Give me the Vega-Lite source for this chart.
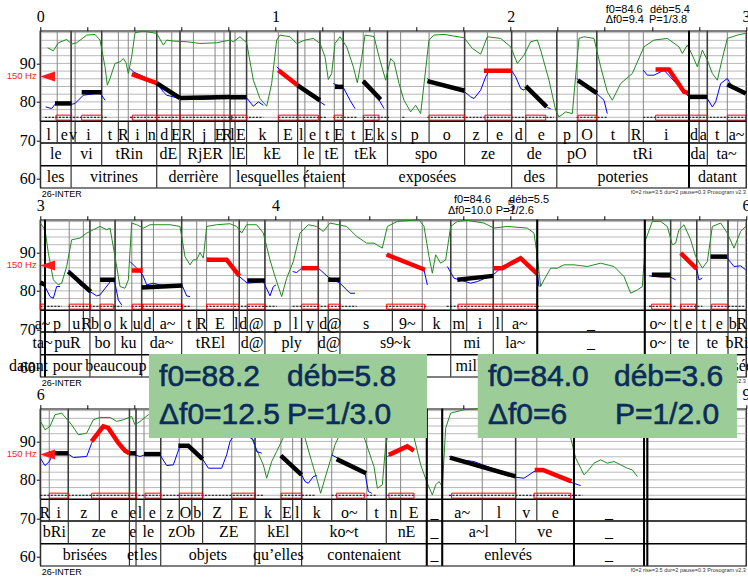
{
"$schema":"https://vega.github.io/schema/vega-lite/v6.json",
"autosize":{"type":"none"},
"padding":{"left":40.3,"top":30.7,"right":707.7,"bottom":547.3},
"background":"white",
"config":{
 "view":{"stroke":"black","strokeWidth":1.2},
 "axis":{"domain":false,"grid":false,"labelFont":"Liberation Serif","labelColor":"black","labelFontSize":16,"tickColor":"black","tickSize":4,"tickWidth":1}
},
"spacing":32,
"bounds":"flush",
"datasets":{
"grid":[{"g":76},{"g":78},{"g":80},{"g":82},{"g":84},{"g":86},{"g":88},{"g":90},{"g":92},{"g":94},{"g":96},{"g":98}],
"iv":[
{"p":1,"k":"ph","s":0,"m":0.036,"l":"l"},{"p":1,"k":"ph","s":0.072,"m":0.1015,"l":"e"},{"p":1,"k":"ph","s":0.131,"m":0.1395,"l":"v"},{"p":1,"k":"ph","s":0.148,"m":0.2045,"l":"i"},{"p":1,"k":"ph","s":0.261,"m":0.2965,"l":"t"},{"p":1,"k":"ph","s":0.332,"m":0.353,"l":"R"},{"p":1,"k":"ph","s":0.374,"m":0.413,"l":"i"},{"p":1,"k":"ph","s":0.452,"m":0.4735,"l":"n"},{"p":1,"k":"ph","s":0.495,"m":0.527,"l":"d"},{"p":1,"k":"ph","s":0.559,"m":0.5765,"l":"E"},{"p":1,"k":"ph","s":0.594,"m":0.6225,"l":"R"},{"p":1,"k":"ph","s":0.651,"m":0.697,"l":"j"},{"p":1,"k":"ph","s":0.743,"m":0.762,"l":"E"},{"p":1,"k":"ph","s":0.781,"m":0.794,"l":"R"},{"p":1,"k":"ph","s":0.807,"m":0.8175,"l":"l"},{"p":1,"k":"ph","s":0.828,"m":0.8525,"l":"E"},{"p":1,"k":"ph","s":0.877,"m":0.9445,"l":"k"},{"p":1,"k":"ph","s":1.012,"m":1.053,"l":"E"},{"p":1,"k":"ph","s":1.094,"m":1.1095,"l":"l"},{"p":1,"k":"ph","s":1.125,"m":1.157,"l":"e"},{"p":1,"k":"ph","s":1.189,"m":1.2195,"l":"t"},{"p":1,"k":"ph","s":1.25,"m":1.269,"l":"E"},{"p":1,"k":"ph","s":1.288,"m":1.3305,"l":"t"},{"p":1,"k":"ph","s":1.373,"m":1.3965,"l":"E"},{"p":1,"k":"ph","s":1.42,"m":1.448,"l":"k"},{"p":1,"k":"ph","s":1.476,"m":1.504,"l":"s"},{"p":1,"k":"ph","s":1.532,"m":1.5925,"l":"p"},{"p":1,"k":"ph","s":1.653,"m":1.7285,"l":"o"},{"p":1,"k":"ph","s":1.804,"m":1.8525,"l":"z"},{"p":1,"k":"ph","s":1.901,"m":1.9525,"l":"e"},{"p":1,"k":"ph","s":2.004,"m":2.034,"l":"d"},{"p":1,"k":"ph","s":2.064,"m":2.13,"l":"e"},{"p":1,"k":"ph","s":2.196,"m":2.2395,"l":"p"},{"p":1,"k":"ph","s":2.283,"m":2.3245,"l":"O"},{"p":1,"k":"ph","s":2.366,"m":2.4345,"l":"t"},{"p":1,"k":"ph","s":2.503,"m":2.5335,"l":"R"},{"p":1,"k":"ph","s":2.564,"m":2.661,"l":"i"},{"p":1,"k":"ph","s":2.758,"m":2.7795,"l":"d"},{"p":1,"k":"ph","s":2.801,"m":2.8185,"l":"a"},{"p":1,"k":"ph","s":2.836,"m":2.8785,"l":"t"},{"p":1,"k":"ph","s":2.921,"m":2.9605,"l":"a~"},
{"p":1,"k":"sy","s":0,"m":0.0655,"l":"le"},{"p":1,"k":"sy","s":0.131,"m":0.196,"l":"vi"},{"p":1,"k":"sy","s":0.261,"m":0.378,"l":"tRin"},{"p":1,"k":"sy","s":0.495,"m":0.5445,"l":"dE"},{"p":1,"k":"sy","s":0.594,"m":0.7005,"l":"RjER"},{"p":1,"k":"sy","s":0.807,"m":0.842,"l":"lE"},{"p":1,"k":"sy","s":0.877,"m":0.9855,"l":"kE"},{"p":1,"k":"sy","s":1.094,"m":1.1415,"l":"le"},{"p":1,"k":"sy","s":1.189,"m":1.2385,"l":"tE"},{"p":1,"k":"sy","s":1.288,"m":1.382,"l":"tEk"},{"p":1,"k":"sy","s":1.476,"m":1.64,"l":"spo"},{"p":1,"k":"sy","s":1.804,"m":1.904,"l":"ze"},{"p":1,"k":"sy","s":2.004,"m":2.1,"l":"de"},{"p":1,"k":"sy","s":2.196,"m":2.281,"l":"pO"},{"p":1,"k":"sy","s":2.366,"m":2.562,"l":"tRi"},{"p":1,"k":"sy","s":2.758,"m":2.797,"l":"da"},{"p":1,"k":"sy","s":2.836,"m":2.918,"l":"ta~"},
{"p":1,"k":"wd","s":0,"m":0.0655,"l":"les"},{"p":1,"k":"wd","s":0.131,"m":0.313,"l":"vitrines"},{"p":1,"k":"wd","s":0.495,"m":0.651,"l":"derrière"},{"p":1,"k":"wd","s":0.807,"m":0.966,"l":"lesquelles"},{"p":1,"k":"wd","s":1.125,"m":1.2065,"l":"étaient"},{"p":1,"k":"wd","s":1.288,"m":1.646,"l":"exposées"},{"p":1,"k":"wd","s":2.004,"m":2.1,"l":"des"},{"p":1,"k":"wd","s":2.196,"m":2.477,"l":"poteries"},{"p":1,"k":"wd","s":2.758,"m":2.879,"l":"datant"},
{"p":2,"k":"ph","s":3,"m":3.01,"l":"a~"},{"p":2,"k":"ph","s":3.02,"m":3.0715,"l":"p"},{"p":2,"k":"ph","s":3.123,"m":3.153,"l":"u"},{"p":2,"k":"ph","s":3.183,"m":3.197,"l":"R"},{"p":2,"k":"ph","s":3.211,"m":3.2325,"l":"b"},{"p":2,"k":"ph","s":3.254,"m":3.286,"l":"o"},{"p":2,"k":"ph","s":3.318,"m":3.3535,"l":"k"},{"p":2,"k":"ph","s":3.389,"m":3.41,"l":"u"},{"p":2,"k":"ph","s":3.431,"m":3.456,"l":"d"},{"p":2,"k":"ph","s":3.481,"m":3.541,"l":"a~"},{"p":2,"k":"ph","s":3.601,"m":3.633,"l":"t"},{"p":2,"k":"ph","s":3.665,"m":3.686,"l":"R"},{"p":2,"k":"ph","s":3.707,"m":3.764,"l":"E"},{"p":2,"k":"ph","s":3.821,"m":3.8335,"l":"l"},{"p":2,"k":"ph","s":3.846,"m":3.863,"l":"d"},{"p":2,"k":"ph","s":3.88,"m":3.9175,"l":"@"},{"p":2,"k":"ph","s":3.955,"m":4.0085,"l":"p"},{"p":2,"k":"ph","s":4.062,"m":4.0865,"l":"l"},{"p":2,"k":"ph","s":4.111,"m":4.1465,"l":"y"},{"p":2,"k":"ph","s":4.182,"m":4.203,"l":"d"},{"p":2,"k":"ph","s":4.224,"m":4.249,"l":"@"},{"p":2,"k":"ph","s":4.274,"m":4.3855,"l":"s"},{"p":2,"k":"ph","s":4.497,"m":4.5605,"l":"9~"},{"p":2,"k":"ph","s":4.624,"m":4.6845,"l":"k"},{"p":2,"k":"ph","s":4.745,"m":4.779,"l":"m"},{"p":2,"k":"ph","s":4.813,"m":4.8695,"l":"i"},{"p":2,"k":"ph","s":4.926,"m":4.945,"l":"l"},{"p":2,"k":"ph","s":4.964,"m":5.0385,"l":"a~"},{"p":2,"k":"ph","s":5.113,"m":5.3415,"l":"_"},{"p":2,"k":"ph","s":5.57,"m":5.625,"l":"o~"},{"p":2,"k":"ph","s":5.68,"m":5.7015,"l":"t"},{"p":2,"k":"ph","s":5.723,"m":5.757,"l":"e"},{"p":2,"k":"ph","s":5.791,"m":5.8205,"l":"t"},{"p":2,"k":"ph","s":5.85,"m":5.887,"l":"e"},{"p":2,"k":"ph","s":5.924,"m":5.9445,"l":"b"},{"p":2,"k":"ph","s":5.965,"m":5.9825,"l":"R"},
{"p":2,"k":"sy","s":3,"m":3.01,"l":"ta~"},{"p":2,"k":"sy","s":3.02,"m":3.1155,"l":"puR"},{"p":2,"k":"sy","s":3.211,"m":3.2645,"l":"bo"},{"p":2,"k":"sy","s":3.318,"m":3.3745,"l":"ku"},{"p":2,"k":"sy","s":3.431,"m":3.516,"l":"da~"},{"p":2,"k":"sy","s":3.601,"m":3.7235,"l":"tREl"},{"p":2,"k":"sy","s":3.846,"m":3.9005,"l":"d@"},{"p":2,"k":"sy","s":3.955,"m":4.0685,"l":"ply"},{"p":2,"k":"sy","s":4.182,"m":4.228,"l":"d@"},{"p":2,"k":"sy","s":4.274,"m":4.5095,"l":"s9~k"},{"p":2,"k":"sy","s":4.745,"m":4.8355,"l":"mi"},{"p":2,"k":"sy","s":4.926,"m":5.0195,"l":"la~"},{"p":2,"k":"sy","s":5.113,"m":5.3415,"l":"_"},{"p":2,"k":"sy","s":5.57,"m":5.625,"l":"o~"},{"p":2,"k":"sy","s":5.68,"m":5.7355,"l":"te"},{"p":2,"k":"sy","s":5.791,"m":5.8575,"l":"te"},{"p":2,"k":"sy","s":5.924,"m":5.962,"l":"bRi"},
{"p":2,"k":"wd","s":3,"m":2.95,"l":"datant"},{"p":2,"k":"wd","s":3.02,"m":3.1155,"l":"pour"},{"p":2,"k":"wd","s":3.211,"m":3.321,"l":"beaucoup"},{"p":2,"k":"wd","s":3.431,"m":3.6385,"l":"d'entre elles"},{"p":2,"k":"wd","s":3.846,"m":3.9005,"l":"de"},{"p":2,"k":"wd","s":3.955,"m":4.0685,"l":"plus"},{"p":2,"k":"wd","s":4.182,"m":4.228,"l":"de"},{"p":2,"k":"wd","s":4.274,"m":4.5095,"l":"cinq"},{"p":2,"k":"wd","s":4.745,"m":4.8355,"l":"mille"},{"p":2,"k":"wd","s":4.926,"m":5.0195,"l":"ans"},{"p":2,"k":"wd","s":5.113,"m":5.3415,"l":"_"},{"p":2,"k":"wd","s":5.57,"m":5.625,"l":"ont"},{"p":2,"k":"wd","s":5.68,"m":5.802,"l":"été"},{"p":2,"k":"wd","s":5.924,"m":5.962,"l":"brisées"},
{"p":3,"k":"ph","s":6,"m":6.019,"l":"R"},{"p":3,"k":"ph","s":6.038,"m":6.0785,"l":"i"},{"p":3,"k":"ph","s":6.119,"m":6.185,"l":"z"},{"p":3,"k":"ph","s":6.251,"m":6.315,"l":"e"},{"p":3,"k":"ph","s":6.379,"m":6.393,"l":"e"},{"p":3,"k":"ph","s":6.407,"m":6.424,"l":"l"},{"p":3,"k":"ph","s":6.441,"m":6.4765,"l":"e"},{"p":3,"k":"ph","s":6.512,"m":6.5515,"l":"z"},{"p":3,"k":"ph","s":6.591,"m":6.6175,"l":"O"},{"p":3,"k":"ph","s":6.644,"m":6.667,"l":"b"},{"p":3,"k":"ph","s":6.69,"m":6.752,"l":"Z"},{"p":3,"k":"ph","s":6.814,"m":6.8635,"l":"E"},{"p":3,"k":"ph","s":6.913,"m":6.968,"l":"k"},{"p":3,"k":"ph","s":7.023,"m":7.048,"l":"E"},{"p":3,"k":"ph","s":7.073,"m":7.092,"l":"l"},{"p":3,"k":"ph","s":7.111,"m":7.175,"l":"k"},{"p":3,"k":"ph","s":7.239,"m":7.3135,"l":"o~"},{"p":3,"k":"ph","s":7.388,"m":7.4295,"l":"t"},{"p":3,"k":"ph","s":7.471,"m":7.5015,"l":"n"},{"p":3,"k":"ph","s":7.532,"m":7.5875,"l":"E"},{"p":3,"k":"ph","s":7.643,"m":7.676,"l":"_"},{"p":3,"k":"ph","s":7.709,"m":7.794,"l":"a~"},{"p":3,"k":"ph","s":7.879,"m":7.95,"l":"l"},{"p":3,"k":"ph","s":8.021,"m":8.066,"l":"v"},{"p":3,"k":"ph","s":8.111,"m":8.19,"l":"e"},{"p":3,"k":"ph","s":8.269,"m":8.418,"l":"_"},{"p":3,"k":"ph","s":8.567,"m":8.574,"l":""},{"p":3,"k":"ph","s":8.581,"m":8.79,"l":""},
{"p":3,"k":"sy","s":6,"m":6.0595,"l":"bRi"},{"p":3,"k":"sy","s":6.119,"m":6.249,"l":"ze"},{"p":3,"k":"sy","s":6.379,"m":6.393,"l":"e"},{"p":3,"k":"sy","s":6.407,"m":6.4595,"l":"le"},{"p":3,"k":"sy","s":6.512,"m":6.601,"l":"zOb"},{"p":3,"k":"sy","s":6.69,"m":6.8015,"l":"ZE"},{"p":3,"k":"sy","s":6.913,"m":7.012,"l":"kEl"},{"p":3,"k":"sy","s":7.111,"m":7.291,"l":"ko~t"},{"p":3,"k":"sy","s":7.471,"m":7.557,"l":"nE"},{"p":3,"k":"sy","s":7.643,"m":7.676,"l":"_"},{"p":3,"k":"sy","s":7.709,"m":7.865,"l":"a~l"},{"p":3,"k":"sy","s":8.021,"m":8.145,"l":"ve"},{"p":3,"k":"sy","s":8.269,"m":8.418,"l":"_"},{"p":3,"k":"sy","s":8.567,"m":8.574,"l":""},{"p":3,"k":"sy","s":8.581,"m":8.79,"l":""},
{"p":3,"k":"wd","s":6,"m":6.1895,"l":"brisées"},{"p":3,"k":"wd","s":6.379,"m":6.393,"l":"et"},{"p":3,"k":"wd","s":6.407,"m":6.4595,"l":"les"},{"p":3,"k":"wd","s":6.512,"m":6.7125,"l":"objets"},{"p":3,"k":"wd","s":6.913,"m":7.012,"l":"qu’elles"},{"p":3,"k":"wd","s":7.111,"m":7.377,"l":"contenaient"},{"p":3,"k":"wd","s":7.643,"m":7.676,"l":"_"},{"p":3,"k":"wd","s":7.709,"m":7.989,"l":"enlevés"},{"p":3,"k":"wd","s":8.269,"m":8.418,"l":"_"},{"p":3,"k":"wd","s":8.567,"m":8.574,"l":""},{"p":3,"k":"wd","s":8.581,"m":8.79,"l":""}
],
"pz":[{"p":1,"t":2.758},{"p":2,"t":3.02},{"p":2,"t":5.113},{"p":2,"t":5.57},{"p":3,"t":7.643},{"p":3,"t":7.709},{"p":3,"t":8.269},{"p":3,"t":8.567},{"p":3,"t":8.581}],
"sty":[
{"p":1,"id":"a","c":"k","t":0.0625,"v":79.6},{"p":1,"id":"a","c":"k","t":0.133,"v":79.6},
{"p":1,"id":"b","c":"k","t":0.176,"v":82.5},{"p":1,"id":"b","c":"k","t":0.261,"v":82.5},
{"p":1,"id":"c","c":"r","t":0.389,"v":87.2},{"p":1,"id":"c","c":"r","t":0.495,"v":84.9},
{"p":1,"id":"d","c":"k","t":0.495,"v":84.9},{"p":1,"id":"d","c":"k","t":0.594,"v":81.0},
{"p":1,"id":"e","c":"k","t":0.594,"v":81.0},{"p":1,"id":"e","c":"k","t":0.807,"v":81.3},
{"p":1,"id":"f","c":"k","t":0.807,"v":81.2},{"p":1,"id":"f","c":"k","t":0.877,"v":81.2},
{"p":1,"id":"g","c":"r","t":1.012,"v":88.2},{"p":1,"id":"g","c":"r","t":1.094,"v":84.3},
{"p":1,"id":"h","c":"k","t":1.094,"v":84.3},{"p":1,"id":"h","c":"k","t":1.189,"v":80.4},
{"p":1,"id":"i","c":"k","t":1.253,"v":83.9},{"p":1,"id":"i","c":"k","t":1.288,"v":83.9},
{"p":1,"id":"j","c":"k","t":1.373,"v":85.4},{"p":1,"id":"j","c":"k","t":1.447,"v":80.6},
{"p":1,"id":"k","c":"k","t":1.646,"v":85.4},{"p":1,"id":"k","c":"k","t":1.804,"v":82.9},
{"p":1,"id":"l","c":"r","t":1.886,"v":88.1},{"p":1,"id":"l","c":"r","t":2.004,"v":88.1},
{"p":1,"id":"m","c":"k","t":2.064,"v":84.1},{"p":1,"id":"m","c":"k","t":2.153,"v":78.7},
{"p":1,"id":"n","c":"k","t":2.286,"v":85.6},{"p":1,"id":"n","c":"k","t":2.366,"v":82.3},
{"p":1,"id":"o","c":"r","t":2.616,"v":88.4},{"p":1,"id":"o","c":"r","t":2.673,"v":88.4},{"p":1,"id":"o","c":"r","t":2.737,"v":82.6},{"p":1,"id":"o","c":"r","t":2.758,"v":82.3},
{"p":1,"id":"q","c":"k","t":2.758,"v":81.3},{"p":1,"id":"q","c":"k","t":2.836,"v":81.3},
{"p":1,"id":"r","c":"k","t":2.921,"v":84.5},{"p":1,"id":"r","c":"k","t":3.0,"v":82.2},
{"p":2,"id":"a","c":"k","t":3.0,"v":82.2},{"p":2,"id":"a","c":"k","t":3.02,"v":81.6},
{"p":2,"id":"b","c":"k","t":3.119,"v":85.0},{"p":2,"id":"b","c":"k","t":3.214,"v":79.8},
{"p":2,"id":"c","c":"k","t":3.254,"v":82.9},{"p":2,"id":"c","c":"k","t":3.318,"v":82.9},
{"p":2,"id":"d","c":"r","t":3.389,"v":85.3},{"p":2,"id":"d","c":"r","t":3.435,"v":85.3},
{"p":2,"id":"e","c":"k","t":3.431,"v":80.9},{"p":2,"id":"e","c":"k","t":3.605,"v":81.4},
{"p":2,"id":"f","c":"r","t":3.707,"v":88.1},{"p":2,"id":"f","c":"r","t":3.792,"v":88.1},{"p":2,"id":"f","c":"r","t":3.846,"v":83.9},
{"p":2,"id":"g","c":"k","t":3.88,"v":82.7},{"p":2,"id":"g","c":"k","t":3.955,"v":82.7},
{"p":2,"id":"h","c":"r","t":4.111,"v":85.9},{"p":2,"id":"h","c":"r","t":4.182,"v":85.9},
{"p":2,"id":"i","c":"k","t":4.224,"v":82.9},{"p":2,"id":"i","c":"k","t":4.274,"v":82.9},
{"p":2,"id":"j","c":"r","t":4.473,"v":89.4},{"p":2,"id":"j","c":"r","t":4.635,"v":85.5},
{"p":2,"id":"k","c":"k","t":4.773,"v":82.9},{"p":2,"id":"k","c":"k","t":4.926,"v":83.9},
{"p":2,"id":"l","c":"r","t":4.926,"v":85.9},{"p":2,"id":"l","c":"r","t":4.964,"v":85.9},{"p":2,"id":"l","c":"r","t":5.042,"v":88.5},{"p":2,"id":"l","c":"r","t":5.113,"v":84.4},
{"p":2,"id":"m","c":"k","t":5.6,"v":84.2},{"p":2,"id":"m","c":"k","t":5.68,"v":84.2},
{"p":2,"id":"n","c":"r","t":5.723,"v":89.8},{"p":2,"id":"n","c":"r","t":5.791,"v":85.7},
{"p":2,"id":"o","c":"k","t":5.85,"v":88.9},{"p":2,"id":"o","c":"k","t":5.921,"v":88.9},
{"p":3,"id":"a","c":"k","t":6.037,"v":86.9},{"p":3,"id":"a","c":"k","t":6.119,"v":86.9},
{"p":3,"id":"b","c":"r","t":6.218,"v":90.0},{"p":3,"id":"b","c":"r","t":6.268,"v":93.9},{"p":3,"id":"b","c":"r","t":6.289,"v":93.5},{"p":3,"id":"b","c":"r","t":6.332,"v":89.6},{"p":3,"id":"b","c":"r","t":6.36,"v":87.6},{"p":3,"id":"b","c":"r","t":6.379,"v":86.9},
{"p":3,"id":"c","c":"k","t":6.379,"v":86.9},{"p":3,"id":"c","c":"k","t":6.407,"v":86.9},
{"p":3,"id":"d","c":"k","t":6.441,"v":86.7},{"p":3,"id":"d","c":"k","t":6.512,"v":86.7},
{"p":3,"id":"e","c":"k","t":6.587,"v":88.9},{"p":3,"id":"e","c":"k","t":6.629,"v":88.9},{"p":3,"id":"e","c":"k","t":6.69,"v":85.4},
{"p":3,"id":"g","c":"k","t":7.023,"v":86.3},{"p":3,"id":"g","c":"k","t":7.111,"v":81.3},
{"p":3,"id":"h","c":"k","t":7.26,"v":85.4},{"p":3,"id":"h","c":"k","t":7.385,"v":81.7},
{"p":3,"id":"i","c":"r","t":7.482,"v":86.5},{"p":3,"id":"i","c":"r","t":7.56,"v":88.7},{"p":3,"id":"i","c":"r","t":7.588,"v":87.6},
{"p":3,"id":"j","c":"k","t":7.742,"v":85.8},{"p":3,"id":"j","c":"k","t":8.021,"v":80.9},
{"p":3,"id":"k","c":"r","t":8.102,"v":82.6},{"p":3,"id":"k","c":"r","t":8.137,"v":82.6},{"p":3,"id":"k","c":"r","t":8.258,"v":79.6}
],
"f0":[
{"p":1,"id":"A","t":0.0229,"v":78.7},{"p":1,"id":"A","t":0.0484,"v":78.26},{"p":1,"id":"A","t":0.0625,"v":79.39},{"p":1,"id":"A","t":0.1334,"v":79.39},{"p":1,"id":"A","t":0.1476,"v":79.57},{"p":1,"id":"A","t":0.183,"v":81.74},{"p":1,"id":"A","t":0.2539,"v":82.34},{"p":1,"id":"A","t":0.2751,"v":80.43},
{"p":1,"id":"B","t":0.3814,"v":88.68},{"p":1,"id":"B","t":0.3956,"v":87.81},{"p":1,"id":"B","t":0.4948,"v":84.95},{"p":1,"id":"B","t":0.5231,"v":82.6},{"p":1,"id":"B","t":0.5373,"v":81.74},{"p":1,"id":"B","t":0.594,"v":80.87},{"p":1,"id":"B","t":0.679,"v":80.61},{"p":1,"id":"B","t":0.7499,"v":80.87},{"p":1,"id":"B","t":0.8066,"v":81.04},{"p":1,"id":"B","t":0.8774,"v":81.04},{"p":1,"id":"B","t":0.9058,"v":78.87},{"p":1,"id":"B","t":0.927,"v":80.0},{"p":1,"id":"B","t":0.9483,"v":79.13},
{"p":1,"id":"C","t":1.005,"v":89.11},{"p":1,"id":"C","t":1.0942,"v":84.34},{"p":1,"id":"C","t":1.1892,"v":80.0},{"p":1,"id":"C","t":1.2105,"v":79.13},
{"p":1,"id":"D","t":1.2459,"v":84.77},{"p":1,"id":"D","t":1.2884,"v":83.73},{"p":1,"id":"D","t":1.3168,"v":80.43},{"p":1,"id":"D","t":1.338,"v":78.26},
{"p":1,"id":"E","t":1.3734,"v":85.64},{"p":1,"id":"E","t":1.433,"v":81.3},{"p":1,"id":"E","t":1.4613,"v":78.26},
{"p":1,"id":"F","t":1.6456,"v":86.08},{"p":1,"id":"F","t":1.6739,"v":84.77},{"p":1,"id":"F","t":1.8043,"v":82.6},{"p":1,"id":"F","t":1.8298,"v":81.3},{"p":1,"id":"F","t":1.844,"v":80.87},{"p":1,"id":"F","t":1.8723,"v":83.04},{"p":1,"id":"F","t":1.8936,"v":86.51},{"p":1,"id":"F","t":1.9077,"v":88.07},{"p":1,"id":"F","t":2.0041,"v":88.07},{"p":1,"id":"F","t":2.0211,"v":86.51},{"p":1,"id":"F","t":2.0424,"v":83.47},{"p":1,"id":"F","t":2.0565,"v":83.04},{"p":1,"id":"F","t":2.0707,"v":83.91},{"p":1,"id":"F","t":2.1274,"v":80.43},{"p":1,"id":"F","t":2.1558,"v":78.52},{"p":1,"id":"F","t":2.1699,"v":78.26},
{"p":1,"id":"G","t":2.2805,"v":86.08},{"p":1,"id":"G","t":2.3655,"v":82.17},{"p":1,"id":"G","t":2.3967,"v":80.43},{"p":1,"id":"G","t":2.4108,"v":76.96},
{"p":1,"id":"H","t":2.5639,"v":88.25},{"p":1,"id":"H","t":2.5809,"v":86.94},{"p":1,"id":"H","t":2.6092,"v":86.94},{"p":1,"id":"H","t":2.6518,"v":88.25},{"p":1,"id":"H","t":2.7368,"v":82.6},{"p":1,"id":"H","t":2.7581,"v":81.3},{"p":1,"id":"H","t":2.836,"v":80.87},{"p":1,"id":"H","t":2.8573,"v":78.7},{"p":1,"id":"H","t":2.8715,"v":80.0},{"p":1,"id":"H","t":2.8927,"v":84.77},{"p":1,"id":"H","t":2.9211,"v":86.08},{"p":1,"id":"H","t":2.9423,"v":83.91},{"p":1,"id":"H","t":2.999,"v":82.17},
{"p":2,"id":"A","t":3.0002,"v":82.0},{"p":2,"id":"A","t":3.02,"v":81.13},{"p":2,"id":"A","t":3.0413,"v":78.52},{"p":2,"id":"A","t":3.0555,"v":78.09},{"p":2,"id":"A","t":3.0696,"v":81.13},{"p":2,"id":"A","t":3.0838,"v":81.13},
{"p":2,"id":"B","t":3.1192,"v":85.47},{"p":2,"id":"B","t":3.1688,"v":81.56},{"p":2,"id":"B","t":3.2114,"v":79.83},{"p":2,"id":"B","t":3.2397,"v":78.7},{"p":2,"id":"B","t":3.2539,"v":78.96},{"p":2,"id":"B","t":3.3035,"v":82.86},{"p":2,"id":"B","t":3.3176,"v":82.0},{"p":2,"id":"B","t":3.3318,"v":77.66},{"p":2,"id":"B","t":3.346,"v":76.35},
{"p":2,"id":"C","t":3.3814,"v":87.64},{"p":2,"id":"C","t":3.4098,"v":85.9},{"p":2,"id":"C","t":3.4353,"v":84.17},{"p":2,"id":"C","t":3.4523,"v":81.56},{"p":2,"id":"C","t":3.4806,"v":82.0},{"p":2,"id":"C","t":3.5089,"v":81.56},{"p":2,"id":"C","t":3.5656,"v":81.13},{"p":2,"id":"C","t":3.6053,"v":81.13},{"p":2,"id":"C","t":3.6223,"v":78.7},{"p":2,"id":"C","t":3.6365,"v":78.52},
{"p":2,"id":"D","t":3.7074,"v":88.51},{"p":2,"id":"D","t":3.7924,"v":88.07},{"p":2,"id":"D","t":3.8463,"v":83.73},{"p":2,"id":"D","t":3.8803,"v":82.0},{"p":2,"id":"D","t":3.9483,"v":82.43},{"p":2,"id":"D","t":3.9766,"v":78.7},{"p":2,"id":"D","t":3.9908,"v":81.13},{"p":2,"id":"D","t":4.0021,"v":81.56},
{"p":2,"id":"E","t":4.073,"v":85.03},{"p":2,"id":"E","t":4.09,"v":84.77},{"p":2,"id":"E","t":4.1113,"v":85.9},{"p":2,"id":"E","t":4.1821,"v":85.9},{"p":2,"id":"E","t":4.2246,"v":83.56},{"p":2,"id":"E","t":4.2743,"v":82.0},{"p":2,"id":"E","t":4.3168,"v":79.39},{"p":2,"id":"E","t":4.338,"v":79.39},
{"p":2,"id":"F","t":4.4684,"v":89.38},{"p":2,"id":"F","t":4.6314,"v":85.47},{"p":2,"id":"F","t":4.6456,"v":81.56},
{"p":2,"id":"G","t":4.7306,"v":86.34},{"p":2,"id":"G","t":4.7589,"v":83.3},{"p":2,"id":"G","t":4.8298,"v":82.0},{"p":2,"id":"G","t":4.8581,"v":82.43},{"p":2,"id":"G","t":4.9262,"v":84.17},{"p":2,"id":"G","t":4.9644,"v":86.34},{"p":2,"id":"G","t":5.0424,"v":88.51},{"p":2,"id":"G","t":5.1132,"v":84.6},{"p":2,"id":"G","t":5.1203,"v":81.13},
{"p":2,"id":"H","t":5.588,"v":83.91},{"p":2,"id":"H","t":5.6376,"v":83.56},{"p":2,"id":"H","t":5.6801,"v":83.56},{"p":2,"id":"H","t":5.7014,"v":82.86},
{"p":2,"id":"I","t":5.7226,"v":89.81},{"p":2,"id":"I","t":5.7907,"v":85.73},{"p":2,"id":"I","t":5.8006,"v":82.86},{"p":2,"id":"I","t":5.8148,"v":83.3},
{"p":2,"id":"J","t":5.8502,"v":88.94},{"p":2,"id":"J","t":5.9211,"v":88.51},{"p":2,"id":"J","t":5.9494,"v":86.34},{"p":2,"id":"J","t":5.9777,"v":86.51},{"p":2,"id":"J","t":5.999,"v":85.47},
{"p":3,"id":"A","t":6.0002,"v":85.64},{"p":3,"id":"A","t":6.02,"v":83.73},{"p":3,"id":"A","t":6.0384,"v":84.77},{"p":3,"id":"A","t":6.0555,"v":86.94},{"p":3,"id":"A","t":6.1192,"v":86.68},{"p":3,"id":"A","t":6.1405,"v":85.82},{"p":3,"id":"A","t":6.1972,"v":86.08},{"p":3,"id":"A","t":6.2184,"v":89.55},{"p":3,"id":"A","t":6.2539,"v":93.63},{"p":3,"id":"A","t":6.2822,"v":93.45},{"p":3,"id":"A","t":6.3318,"v":89.55},{"p":3,"id":"A","t":6.3786,"v":86.94},{"p":3,"id":"A","t":6.424,"v":86.08},{"p":3,"id":"A","t":6.4523,"v":86.68},{"p":3,"id":"A","t":6.509,"v":86.51},{"p":3,"id":"A","t":6.5373,"v":83.73},{"p":3,"id":"A","t":6.5656,"v":83.91},{"p":3,"id":"A","t":6.594,"v":88.85},{"p":3,"id":"A","t":6.6294,"v":88.85},{"p":3,"id":"A","t":6.6904,"v":85.38},{"p":3,"id":"A","t":6.7145,"v":83.04},{"p":3,"id":"A","t":6.7711,"v":83.04},{"p":3,"id":"A","t":6.7924,"v":86.51},{"p":3,"id":"A","t":6.8066,"v":89.98},{"p":3,"id":"A","t":6.8207,"v":91.28},{"p":3,"id":"A","t":6.8632,"v":92.15},{"p":3,"id":"A","t":6.9058,"v":90.42},{"p":3,"id":"A","t":6.9199,"v":87.38},{"p":3,"id":"A","t":6.9412,"v":86.94},
{"p":3,"id":"B","t":7.0234,"v":86.34},{"p":3,"id":"B","t":7.0758,"v":83.04},{"p":3,"id":"B","t":7.1113,"v":81.3},{"p":3,"id":"B","t":7.1255,"v":79.57},{"p":3,"id":"B","t":7.1396,"v":79.13},{"p":3,"id":"B","t":7.1609,"v":80.87},{"p":3,"id":"B","t":7.175,"v":81.13},
{"p":3,"id":"C","t":7.2388,"v":86.51},{"p":3,"id":"C","t":7.3805,"v":81.74},{"p":3,"id":"C","t":7.3947,"v":76.96},{"p":3,"id":"C","t":7.4089,"v":76.53},
{"p":3,"id":"D","t":7.4755,"v":86.08},{"p":3,"id":"D","t":7.5605,"v":88.68},{"p":3,"id":"D","t":7.5889,"v":87.55},
{"p":3,"id":"E","t":7.7377,"v":86.08},{"p":3,"id":"E","t":7.7873,"v":85.21},{"p":3,"id":"E","t":7.844,"v":84.77},{"p":3,"id":"E","t":8.0211,"v":80.69},{"p":3,"id":"E","t":8.0565,"v":80.43},{"p":3,"id":"E","t":8.0991,"v":82.17},{"p":3,"id":"E","t":8.1345,"v":82.6},{"p":3,"id":"E","t":8.2549,"v":79.39},{"p":3,"id":"E","t":8.2975,"v":78.52}
],
"in":[
{"p":1,"t":0.0314,"v":94.06},{"p":1,"t":0.0554,"v":93.28},{"p":1,"t":0.0767,"v":95.36},{"p":1,"t":0.1121,"v":96.23},{"p":1,"t":0.1334,"v":95.02},{"p":1,"t":0.1547,"v":95.36},{"p":1,"t":0.1972,"v":97.36},{"p":1,"t":0.2326,"v":97.53},{"p":1,"t":0.2539,"v":96.06},{"p":1,"t":0.2751,"v":89.11},{"p":1,"t":0.285,"v":84.34},{"p":1,"t":0.2964,"v":86.08},{"p":1,"t":0.3176,"v":89.98},{"p":1,"t":0.3389,"v":90.42},{"p":1,"t":0.3531,"v":91.28},{"p":1,"t":0.3644,"v":90.16},{"p":1,"t":0.3743,"v":87.38},{"p":1,"t":0.3885,"v":91.72},{"p":1,"t":0.4027,"v":97.97},{"p":1,"t":0.4381,"v":98.4},{"p":1,"t":0.4948,"v":97.8},{"p":1,"t":0.5231,"v":94.76},{"p":1,"t":0.5373,"v":96.06},{"p":1,"t":0.5656,"v":95.8},{"p":1,"t":0.6223,"v":95.63},{"p":1,"t":0.679,"v":95.19},{"p":1,"t":0.7499,"v":95.36},{"p":1,"t":0.8066,"v":96.06},{"p":1,"t":0.8207,"v":95.63},{"p":1,"t":0.8491,"v":96.93},{"p":1,"t":0.8774,"v":95.36},{"p":1,"t":0.9058,"v":85.64},{"p":1,"t":0.9341,"v":80.87},{"p":1,"t":0.9625,"v":78.87},{"p":1,"t":0.9837,"v":84.77},{"p":1,"t":1.005,"v":96.06},{"p":1,"t":1.0191,"v":97.36},{"p":1,"t":1.0617,"v":96.93},{"p":1,"t":1.09,"v":95.19},{"p":1,"t":1.1254,"v":96.06},{"p":1,"t":1.1609,"v":96.49},{"p":1,"t":1.1892,"v":95.19},{"p":1,"t":1.2105,"v":91.72},{"p":1,"t":1.2246,"v":85.82},{"p":1,"t":1.2388,"v":87.38},{"p":1,"t":1.253,"v":95.19},{"p":1,"t":1.2742,"v":96.93},{"p":1,"t":1.3026,"v":94.32},{"p":1,"t":1.3309,"v":89.11},{"p":1,"t":1.3479,"v":84.95},{"p":1,"t":1.3663,"v":91.28},{"p":1,"t":1.3805,"v":97.36},{"p":1,"t":1.4188,"v":97.0},{"p":1,"t":1.4401,"v":91.72},{"p":1,"t":1.4684,"v":85.64},{"p":1,"t":1.4897,"v":91.28},{"p":1,"t":1.5038,"v":90.42},{"p":1,"t":1.5251,"v":84.77},{"p":1,"t":1.5463,"v":80.43},{"p":1,"t":1.5747,"v":77.4},{"p":1,"t":1.596,"v":79.13},{"p":1,"t":1.6172,"v":76.96},{"p":1,"t":1.6526,"v":96.06},{"p":1,"t":1.6739,"v":97.36},{"p":1,"t":1.7164,"v":97.53},{"p":1,"t":1.8015,"v":96.67},{"p":1,"t":1.8369,"v":93.89},{"p":1,"t":1.8723,"v":92.41},{"p":1,"t":1.9007,"v":96.93},{"p":1,"t":1.9573,"v":96.49},{"p":1,"t":1.9999,"v":94.32},{"p":1,"t":2.0282,"v":89.98},{"p":1,"t":2.0565,"v":92.15},{"p":1,"t":2.0849,"v":95.63},{"p":1,"t":2.1132,"v":96.06},{"p":1,"t":2.1274,"v":93.45},{"p":1,"t":2.1628,"v":85.64},{"p":1,"t":2.1912,"v":77.83},{"p":1,"t":2.2054,"v":76.09},{"p":1,"t":2.2337,"v":77.4},{"p":1,"t":2.262,"v":76.96},{"p":1,"t":2.2904,"v":96.49},{"p":1,"t":2.3116,"v":96.93},{"p":1,"t":2.3541,"v":96.49},{"p":1,"t":2.3825,"v":89.11},{"p":1,"t":2.4108,"v":82.6},{"p":1,"t":2.4321,"v":80.43},{"p":1,"t":2.4675,"v":84.77},{"p":1,"t":2.5171,"v":87.38},{"p":1,"t":2.5667,"v":94.32},{"p":1,"t":2.6092,"v":96.06},{"p":1,"t":2.6659,"v":96.49},{"p":1,"t":2.7155,"v":94.32},{"p":1,"t":2.7297,"v":92.59},{"p":1,"t":2.751,"v":94.76},{"p":1,"t":2.7722,"v":92.15},{"p":1,"t":2.7935,"v":89.11},{"p":1,"t":2.8148,"v":93.45},{"p":1,"t":2.836,"v":90.85},{"p":1,"t":2.8573,"v":87.38},{"p":1,"t":2.8785,"v":85.64},{"p":1,"t":2.8998,"v":91.28},{"p":1,"t":2.9211,"v":96.49},{"p":1,"t":2.9636,"v":97.36},{"p":1,"t":2.999,"v":97.8},
{"p":2,"t":3.0002,"v":97.62},{"p":2,"t":3.02,"v":95.89},{"p":2,"t":3.0342,"v":89.81},{"p":2,"t":3.0555,"v":82.86},{"p":2,"t":3.0767,"v":81.56},{"p":2,"t":3.0909,"v":82.0},{"p":2,"t":3.1121,"v":86.34},{"p":2,"t":3.1334,"v":93.28},{"p":2,"t":3.1688,"v":93.72},{"p":2,"t":3.1972,"v":95.02},{"p":2,"t":3.2255,"v":95.89},{"p":2,"t":3.2539,"v":96.75},{"p":2,"t":3.2822,"v":95.89},{"p":2,"t":3.2964,"v":96.32},{"p":2,"t":3.3176,"v":88.94},{"p":2,"t":3.3389,"v":81.13},{"p":2,"t":3.3601,"v":80.69},{"p":2,"t":3.3743,"v":82.86},{"p":2,"t":3.3885,"v":97.62},{"p":2,"t":3.4098,"v":97.19},{"p":2,"t":3.4381,"v":96.32},{"p":2,"t":3.4664,"v":97.19},{"p":2,"t":3.5515,"v":97.19},{"p":2,"t":3.594,"v":96.75},{"p":2,"t":3.6152,"v":88.94},{"p":2,"t":3.6365,"v":86.77},{"p":2,"t":3.6507,"v":88.07},{"p":2,"t":3.6649,"v":88.07},{"p":2,"t":3.679,"v":89.98},{"p":2,"t":3.6932,"v":88.51},{"p":2,"t":3.7074,"v":96.75},{"p":2,"t":3.7499,"v":97.19},{"p":2,"t":3.8066,"v":97.45},{"p":2,"t":3.8349,"v":96.75},{"p":2,"t":3.8562,"v":95.02},{"p":2,"t":3.8774,"v":97.19},{"p":2,"t":3.9199,"v":97.19},{"p":2,"t":3.9483,"v":95.02},{"p":2,"t":3.9766,"v":88.07},{"p":2,"t":3.9979,"v":83.73},{"p":2,"t":4.0262,"v":78.52},{"p":2,"t":4.0475,"v":83.3},{"p":2,"t":4.0758,"v":87.64},{"p":2,"t":4.1042,"v":95.02},{"p":2,"t":4.1396,"v":97.19},{"p":2,"t":4.175,"v":96.75},{"p":2,"t":4.2034,"v":95.45},{"p":2,"t":4.2317,"v":97.62},{"p":2,"t":4.3026,"v":96.75},{"p":2,"t":4.3451,"v":94.15},{"p":2,"t":4.3876,"v":92.41},{"p":2,"t":4.4188,"v":92.41},{"p":2,"t":4.4542,"v":91.11},{"p":2,"t":4.4755,"v":96.75},{"p":2,"t":4.518,"v":98.06},{"p":2,"t":4.6101,"v":98.49},{"p":2,"t":4.6314,"v":96.75},{"p":2,"t":4.6526,"v":88.94},{"p":2,"t":4.6668,"v":84.6},{"p":2,"t":4.681,"v":89.38},{"p":2,"t":4.7022,"v":87.2},{"p":2,"t":4.7235,"v":88.07},{"p":2,"t":4.7448,"v":96.75},{"p":2,"t":4.7731,"v":98.06},{"p":2,"t":4.8156,"v":98.32},{"p":2,"t":4.8865,"v":97.62},{"p":2,"t":4.929,"v":96.32},{"p":2,"t":4.9857,"v":96.75},{"p":2,"t":5.0707,"v":96.32},{"p":2,"t":5.0991,"v":95.02},{"p":2,"t":5.1132,"v":88.94},{"p":2,"t":5.1274,"v":81.13},{"p":2,"t":5.1416,"v":82.86},{"p":2,"t":5.1699,"v":85.9},{"p":2,"t":5.1983,"v":85.9},{"p":2,"t":5.2266,"v":86.77},{"p":2,"t":5.2691,"v":86.77},{"p":2,"t":5.3258,"v":86.34},{"p":2,"t":5.3825,"v":87.2},{"p":2,"t":5.4392,"v":86.34},{"p":2,"t":5.4817,"v":83.73},{"p":2,"t":5.5101,"v":79.39},{"p":2,"t":5.5384,"v":80.26},{"p":2,"t":5.5597,"v":81.13},{"p":2,"t":5.5738,"v":93.28},{"p":2,"t":5.6022,"v":98.06},{"p":2,"t":5.6376,"v":98.06},{"p":2,"t":5.6659,"v":96.75},{"p":2,"t":5.6872,"v":91.98},{"p":2,"t":5.7014,"v":92.41},{"p":2,"t":5.7155,"v":95.89},{"p":2,"t":5.7368,"v":97.19},{"p":2,"t":5.7651,"v":93.28},{"p":2,"t":5.7864,"v":88.94},{"p":2,"t":5.8148,"v":85.9},{"p":2,"t":5.836,"v":87.64},{"p":2,"t":5.8573,"v":96.75},{"p":2,"t":5.8927,"v":97.62},{"p":2,"t":5.9211,"v":95.02},{"p":2,"t":5.9494,"v":91.11},{"p":2,"t":5.9777,"v":95.45},{"p":2,"t":5.999,"v":96.75},
{"p":3,"t":6.0002,"v":95.36},{"p":3,"t":6.02,"v":93.02},{"p":3,"t":6.0413,"v":93.89},{"p":3,"t":6.0625,"v":96.93},{"p":3,"t":6.0909,"v":97.36},{"p":3,"t":6.1334,"v":94.32},{"p":3,"t":6.1617,"v":91.72},{"p":3,"t":6.1972,"v":92.15},{"p":3,"t":6.2255,"v":95.63},{"p":3,"t":6.2539,"v":96.23},{"p":3,"t":6.2964,"v":96.23},{"p":3,"t":6.3247,"v":95.19},{"p":3,"t":6.3531,"v":95.63},{"p":3,"t":6.3885,"v":96.49},{"p":3,"t":6.4027,"v":94.32},{"p":3,"t":6.424,"v":95.19},{"p":3,"t":6.4594,"v":96.93},{"p":3,"t":6.509,"v":97.8},{"p":3,"t":6.6223,"v":97.8},{"p":3,"t":6.7074,"v":96.93},{"p":3,"t":6.7924,"v":96.93},{"p":3,"t":6.8491,"v":95.63},{"p":3,"t":6.8987,"v":90.85},{"p":3,"t":6.9199,"v":87.81},{"p":3,"t":6.9483,"v":83.91},{"p":3,"t":6.9625,"v":80.43},{"p":3,"t":6.9837,"v":84.77},{"p":3,"t":7.005,"v":87.38},{"p":3,"t":7.0334,"v":91.02},{"p":3,"t":7.0617,"v":94.32},{"p":3,"t":7.0971,"v":93.45},{"p":3,"t":7.1255,"v":90.85},{"p":3,"t":7.1538,"v":84.77},{"p":3,"t":7.175,"v":80.43},{"p":3,"t":7.192,"v":76.53},{"p":3,"t":7.2105,"v":80.43},{"p":3,"t":7.2317,"v":84.77},{"p":3,"t":7.253,"v":89.11},{"p":3,"t":7.2672,"v":91.02},{"p":3,"t":7.3168,"v":96.06},{"p":3,"t":7.3592,"v":93.45},{"p":3,"t":7.3805,"v":90.42},{"p":3,"t":7.3947,"v":87.81},{"p":3,"t":7.4089,"v":85.21},{"p":3,"t":7.4188,"v":83.47},{"p":3,"t":7.433,"v":77.83},{"p":3,"t":7.4542,"v":78.7},{"p":3,"t":7.4684,"v":89.11},{"p":3,"t":7.4755,"v":91.02},{"p":3,"t":7.518,"v":93.45},{"p":3,"t":7.5747,"v":92.59},{"p":3,"t":7.5889,"v":91.02},{"p":3,"t":7.6172,"v":83.91},{"p":3,"t":7.6456,"v":79.13},{"p":3,"t":7.6668,"v":76.09},{"p":3,"t":7.681,"v":78.7},{"p":3,"t":7.6952,"v":79.57},{"p":3,"t":7.7094,"v":78.26},{"p":3,"t":7.7235,"v":93.45},{"p":3,"t":7.7448,"v":97.36},{"p":3,"t":7.8015,"v":98.23},{"p":3,"t":7.8582,"v":98.49},{"p":3,"t":7.9857,"v":98.23},{"p":3,"t":8.1274,"v":97.8},{"p":3,"t":8.2124,"v":96.93},{"p":3,"t":8.2549,"v":91.02},{"p":3,"t":8.2763,"v":85.64},{"p":3,"t":8.2975,"v":83.04},{"p":3,"t":8.3116,"v":81.3},{"p":3,"t":8.3258,"v":82.17},{"p":3,"t":8.3542,"v":84.34},{"p":3,"t":8.3825,"v":85.21},{"p":3,"t":8.4108,"v":84.34},{"p":3,"t":8.4392,"v":84.77},{"p":3,"t":8.4675,"v":83.91},{"p":3,"t":8.4959,"v":83.04},{"p":3,"t":8.5171,"v":82.6},{"p":3,"t":8.5384,"v":80.87}
],
"nuc":[
{"p":1,"s":0.0668,"e":0.1334},{"p":1,"s":0.1759,"e":0.2609},{"p":1,"s":0.3913,"e":0.4948},{"p":1,"s":0.4948,"e":0.594},{"p":1,"s":0.594,"e":0.8137},{"p":1,"s":0.8137,"e":0.8774},{"p":1,"s":1.0121,"e":1.0942},{"p":1,"s":1.0942,"e":1.1821},{"p":1,"s":1.2501,"e":1.2884},{"p":1,"s":1.3734,"e":1.4401},{"p":1,"s":1.6526,"e":1.8043},{"p":1,"s":1.8907,"e":2.0041},{"p":1,"s":2.0636,"e":2.1487},{"p":1,"s":2.2861,"e":2.3655},{"p":1,"s":2.6163,"e":2.7581},{"p":1,"s":2.7581,"e":2.836},{"p":1,"s":2.9211,"e":2.999},
{"p":2,"s":3.0002,"e":3.02},{"p":2,"s":3.1235,"e":3.2142},{"p":2,"s":3.2539,"e":3.3106},{"p":2,"s":3.3913,"e":3.4353},{"p":2,"s":3.4353,"e":3.6053},{"p":2,"s":3.7074,"e":3.8463},{"p":2,"s":3.8803,"e":3.9554},{"p":2,"s":4.1113,"e":4.1821},{"p":2,"s":4.2246,"e":4.2743},{"p":2,"s":4.4727,"e":4.6342},{"p":2,"s":4.7759,"e":4.9262},{"p":2,"s":4.9262,"e":5.1132},{"p":2,"s":5.5993,"e":5.6801},{"p":2,"s":5.7226,"e":5.7864},{"p":2,"s":5.8544,"e":5.9211},
{"p":3,"s":6.0384,"e":6.1192},{"p":3,"s":6.2184,"e":6.3786},{"p":3,"s":6.3786,"e":6.4098},{"p":3,"s":6.4452,"e":6.5118},{"p":3,"s":6.5911,"e":6.6904},{"p":3,"s":6.8137,"e":6.9129},{"p":3,"s":7.0234,"e":7.1113},{"p":3,"s":7.2601,"e":7.3777},{"p":3,"s":7.4826,"e":7.5889},{"p":3,"s":7.749,"e":8.0211},{"p":3,"s":8.0991,"e":8.2549}
],
"voi":[
{"p":1,"s":0.02,"e":0.2822},{"p":1,"s":0.3814,"e":0.9483},{"p":1,"s":1.0121,"e":1.2176},{"p":1,"s":1.2459,"e":1.3451},{"p":1,"s":1.3734,"e":1.4826},{"p":1,"s":1.5393,"e":1.5534},{"p":1,"s":1.6456,"e":2.1841},{"p":1,"s":2.2805,"e":2.4108},{"p":1,"s":2.5639,"e":2.999},
{"p":2,"s":3.0002,"e":3.0909},{"p":2,"s":3.1192,"e":3.346},{"p":2,"s":3.3885,"e":3.6365},{"p":2,"s":3.7046,"e":4.005},{"p":2,"s":4.073,"e":4.3451},{"p":2,"s":4.4684,"e":4.6456},{"p":2,"s":4.7278,"e":5.1203},{"p":2,"s":5.588,"e":5.7014},{"p":2,"s":5.7198,"e":5.8148},{"p":2,"s":5.8502,"e":5.999},
{"p":3,"s":6.0002,"e":6.9483},{"p":3,"s":7.0234,"e":7.168},{"p":3,"s":7.2388,"e":7.433},{"p":3,"s":7.4755,"e":7.5889},{"p":3,"s":7.7377,"e":8.3046}
],
"ann":[
{"p":1,"k":"tri","t":0.0306,"v":86.6},{"p":1,"k":"hz","t":-0.0153,"v":86.6,"l":"150 Hz"},{"p":1,"k":"tag","t":0.006,"v":55.98,"l":"26-INTER"},{"p":1,"k":"ft","t":3.0,"v":56.66,"l":"f0=2 rise=3.5 dur=2 pause=0.3 Prosogram v2.3"},
{"p":1,"k":"st","t":2.404,"v":103.88,"l":"f0=84.6"},{"p":1,"k":"st","t":2.592,"v":103.88,"l":"déb=5.4"},{"p":1,"k":"st","t":2.404,"v":101.2,"l":"Δf0=9.4"},{"p":1,"k":"st","t":2.588,"v":101.2,"l":"P=1/3.8"},
{"p":2,"k":"tri","t":3.0306,"v":86.6},{"p":2,"k":"hz","t":2.9847,"v":86.6,"l":"150 Hz"},{"p":2,"k":"tag","t":3.006,"v":55.98,"l":"26-INTER"},{"p":2,"k":"ft","t":6.0,"v":56.66,"l":"f0=2 rise=3.5 dur=2 pause=0.3 Prosogram v2.3"},
{"p":2,"k":"st","t":4.759,"v":103.62,"l":"f0=84.6"},{"p":2,"k":"st","t":4.993,"v":103.62,"l":"déb=5.5"},{"p":2,"k":"st","t":4.733,"v":100.84,"l":"Δf0=10.0"},{"p":2,"k":"st","t":4.936,"v":100.84,"l":"P=1/2.6"},
{"p":3,"k":"tri","t":6.0306,"v":86.6},{"p":3,"k":"hz","t":5.9847,"v":86.6,"l":"150 Hz"},{"p":3,"k":"tag","t":6.006,"v":55.98,"l":"26-INTER"},{"p":3,"k":"ft","t":9.0,"v":56.66,"l":"f0=2 rise=3.5 dur=2 pause=0.3 Prosogram v2.3"},
{"p":3,"k":"big","t":6.505,"v":106.63,"l":"f0=88.2"},{"p":3,"k":"big","t":7.049,"v":106.63,"l":"déb=5.8"},{"p":3,"k":"big","t":6.505,"v":96.86,"l":"Δf0=12.5"},{"p":3,"k":"big","t":7.049,"v":96.86,"l":"P=1/3.0"},
{"p":3,"k":"big","t":7.903,"v":106.63,"l":"f0=84.0"},{"p":3,"k":"big","t":8.439,"v":106.63,"l":"déb=3.6"},{"p":3,"k":"big","t":7.903,"v":96.86,"l":"Δf0=6"},{"p":3,"k":"big","t":8.443,"v":96.86,"l":"P=1/2.0"}
],
"box":[{"p":3,"s":6.462,"e":7.644,"b":90.89,"t":112.7},{"p":3,"s":7.86,"e":8.962,"b":90.89,"t":112.7}]
},
"vconcat":[
{"width":705.6,"height":157,"layer":[
{"data":{"name":"grid"},"mark":{"type":"rule","color":"#b8b8b8","strokeWidth":1},"encoding":{"y":{"field":"g","type":"quantitative","scale":{"domain":[57.7,98.5],"nice":false,"zero":false},"axis":{"values":[60,70,80,90],"title":null,"labelPadding":1}}}},
{"data":{"name":"iv"},"transform":[{"filter":"datum.p==1 && datum.k=='ph'"}],"mark":{"type":"rule","color":"#858585","strokeWidth":1},"encoding":{"x":{"field":"s","type":"quantitative","scale":{"domain":[0,3],"nice":false,"zero":false},"axis":{"orient":"top","values":[0,0.1,0.2,0.3,0.4,0.5,0.6,0.7,0.8,0.9,1,1.1,1.2,1.3,1.4,1.5,1.6,1.7,1.8,1.9,2,2.1,2.2,2.3,2.4,2.5,2.6,2.7,2.8,2.9,3],"labelExpr":"abs(datum.value-round(datum.value))<0.01 ? format(round(datum.value),'d') : ''","labelFlush":false,"labelOverlap":false,"labelPadding":2,"title":null}},"y":{"datum":75,"type":"quantitative","scale":{"domain":[57.7,98.5],"nice":false,"zero":false}},"y2":{"datum":98.5}}},
{"data":{"name":"iv"},"transform":[{"filter":"datum.p==1 && datum.k=='sy'"}],"mark":{"type":"rule","color":"#3c3c3c","strokeWidth":1.5},"encoding":{"x":{"field":"s","type":"quantitative","scale":{"domain":[0,3],"nice":false,"zero":false}},"y":{"datum":75,"type":"quantitative","scale":{"domain":[57.7,98.5],"nice":false,"zero":false}},"y2":{"datum":98.5}}},
{"data":{"name":"in"},"transform":[{"filter":"datum.p==1"}],"mark":{"type":"line","color":"#1f8a1f","strokeWidth":1},"encoding":{"x":{"field":"t","type":"quantitative","scale":{"domain":[0,3],"nice":false,"zero":false}},"y":{"field":"v","type":"quantitative","scale":{"domain":[57.7,98.5],"nice":false,"zero":false}}}},
{"data":{"name":"f0"},"transform":[{"filter":"datum.p==1"}],"mark":{"type":"line","color":"#0000ff","strokeWidth":1},"encoding":{"x":{"field":"t","type":"quantitative","scale":{"domain":[0,3],"nice":false,"zero":false}},"y":{"field":"v","type":"quantitative","scale":{"domain":[57.7,98.5],"nice":false,"zero":false}},"detail":{"field":"id"}}},
{"data":{"name":"voi"},"transform":[{"filter":"datum.p==1"}],"mark":{"type":"rule","color":"black","strokeWidth":1,"strokeDash":[2,1.5]},"encoding":{"x":{"field":"s","type":"quantitative","scale":{"domain":[0,3],"nice":false,"zero":false}},"x2":{"field":"e"},"y":{"datum":76.0,"type":"quantitative","scale":{"domain":[57.7,98.5],"nice":false,"zero":false}}}},
{"data":{"name":"nuc"},"transform":[{"filter":"datum.p==1"}],"mark":{"type":"rect","fillOpacity":0,"stroke":"#ff0000","strokeWidth":1},"encoding":{"x":{"field":"s","type":"quantitative","scale":{"domain":[0,3],"nice":false,"zero":false}},"x2":{"field":"e"},"y":{"datum":75.25,"type":"quantitative","scale":{"domain":[57.7,98.5],"nice":false,"zero":false}},"y2":{"datum":76.55}}},
{"data":{"name":"sty"},"transform":[{"filter":"datum.p==1"}],"mark":{"type":"line","strokeWidth":4.5,"strokeCap":"butt"},"encoding":{"x":{"field":"t","type":"quantitative","scale":{"domain":[0,3],"nice":false,"zero":false}},"y":{"field":"v","type":"quantitative","scale":{"domain":[57.7,98.5],"nice":false,"zero":false}},"detail":{"field":"id"},"color":{"field":"c","type":"nominal","scale":{"domain":["k","r"],"range":["black","#ff0000"]},"legend":null}}},
{"data":{"values":[{"y":75},{"y":69.3},{"y":63.4}]},"mark":{"type":"rule","color":"black","strokeWidth":1.5},"encoding":{"y":{"field":"y","type":"quantitative","scale":{"domain":[57.7,98.5],"nice":false,"zero":false}}}},
{"data":{"name":"iv"},"transform":[{"filter":"datum.p==1 && datum.k=='ph'"}],"mark":{"type":"rule","color":"#333333","strokeWidth":1.2},"encoding":{"x":{"field":"s","type":"quantitative","scale":{"domain":[0,3],"nice":false,"zero":false}},"y":{"datum":69.3,"type":"quantitative","scale":{"domain":[57.7,98.5],"nice":false,"zero":false}},"y2":{"datum":75}}},
{"data":{"name":"iv"},"transform":[{"filter":"datum.p==1 && datum.k=='sy'"}],"mark":{"type":"rule","color":"#333333","strokeWidth":1.2},"encoding":{"x":{"field":"s","type":"quantitative","scale":{"domain":[0,3],"nice":false,"zero":false}},"y":{"datum":63.4,"type":"quantitative","scale":{"domain":[57.7,98.5],"nice":false,"zero":false}},"y2":{"datum":69.3}}},
{"data":{"name":"iv"},"transform":[{"filter":"datum.p==1 && datum.k=='wd'"}],"mark":{"type":"rule","color":"#333333","strokeWidth":1.2},"encoding":{"x":{"field":"s","type":"quantitative","scale":{"domain":[0,3],"nice":false,"zero":false}},"y":{"datum":57.7,"type":"quantitative","scale":{"domain":[57.7,98.5],"nice":false,"zero":false}},"y2":{"datum":63.4}}},
{"data":{"name":"pz"},"transform":[{"filter":"datum.p==1"}],"mark":{"type":"rule","color":"black","strokeWidth":2},"encoding":{"x":{"field":"t","type":"quantitative","scale":{"domain":[0,3],"nice":false,"zero":false}},"y":{"datum":57.7,"type":"quantitative","scale":{"domain":[57.7,98.5],"nice":false,"zero":false}},"y2":{"datum":98.5}}},
{"data":{"name":"iv"},"transform":[{"filter":"datum.p==1 && datum.k=='ph'"}],"mark":{"type":"text","font":"Liberation Serif","fontSize":16,"baseline":"alphabetic","color":"black"},"encoding":{"x":{"field":"m","type":"quantitative","scale":{"domain":[0,3],"nice":false,"zero":false}},"y":{"datum":70.1,"type":"quantitative","scale":{"domain":[57.7,98.5],"nice":false,"zero":false}},"text":{"field":"l"}}},
{"data":{"name":"iv"},"transform":[{"filter":"datum.p==1 && datum.k=='sy'"}],"mark":{"type":"text","font":"Liberation Serif","fontSize":16,"baseline":"alphabetic","color":"black"},"encoding":{"x":{"field":"m","type":"quantitative","scale":{"domain":[0,3],"nice":false,"zero":false}},"y":{"datum":65.1,"type":"quantitative","scale":{"domain":[57.7,98.5],"nice":false,"zero":false}},"text":{"field":"l"}}},
{"data":{"name":"iv"},"transform":[{"filter":"datum.p==1 && datum.k=='wd'"}],"mark":{"type":"text","font":"Liberation Serif","fontSize":16,"baseline":"alphabetic","color":"black"},"encoding":{"x":{"field":"m","type":"quantitative","scale":{"domain":[0,3],"nice":false,"zero":false}},"y":{"datum":59.3,"type":"quantitative","scale":{"domain":[57.7,98.5],"nice":false,"zero":false}},"text":{"field":"l"}}},
{"data":{"name":"ann"},"transform":[{"filter":"datum.p==1 && datum.k=='tri'"}],"mark":{"type":"point","shape":"M 1 -0.67 L -1 0 L 1 0.67 Z","size":225,"filled":true,"color":"#ff1a1a","opacity":1},"encoding":{"x":{"field":"t","type":"quantitative","scale":{"domain":[0,3],"nice":false,"zero":false}},"y":{"field":"v","type":"quantitative","scale":{"domain":[57.7,98.5],"nice":false,"zero":false}}}},
{"data":{"name":"ann"},"transform":[{"filter":"datum.p==1 && datum.k=='hz'"}],"mark":{"type":"text","font":"Liberation Sans","fontSize":9.5,"align":"right","baseline":"middle","color":"#ff1a1a"},"encoding":{"x":{"field":"t","type":"quantitative","scale":{"domain":[0,3],"nice":false,"zero":false}},"y":{"field":"v","type":"quantitative","scale":{"domain":[57.7,98.5],"nice":false,"zero":false}},"text":{"field":"l"}}},
{"data":{"name":"ann"},"transform":[{"filter":"datum.p==1 && datum.k=='tag'"}],"mark":{"type":"text","font":"Liberation Sans","fontSize":9,"align":"left","baseline":"middle","color":"black"},"encoding":{"x":{"field":"t","type":"quantitative","scale":{"domain":[0,3],"nice":false,"zero":false}},"y":{"field":"v","type":"quantitative","scale":{"domain":[57.7,98.5],"nice":false,"zero":false}},"text":{"field":"l"}}},
{"data":{"name":"ann"},"transform":[{"filter":"datum.p==1 && datum.k=='ft'"}],"mark":{"type":"text","font":"Liberation Sans","fontSize":5.5,"align":"right","baseline":"middle","color":"#333333"},"encoding":{"x":{"field":"t","type":"quantitative","scale":{"domain":[0,3],"nice":false,"zero":false}},"y":{"field":"v","type":"quantitative","scale":{"domain":[57.7,98.5],"nice":false,"zero":false}},"text":{"field":"l"}}},
{"data":{"name":"ann"},"transform":[{"filter":"datum.p==1 && datum.k=='st'"}],"mark":{"type":"text","font":"Liberation Sans","fontSize":11,"align":"left","baseline":"middle","color":"black"},"encoding":{"x":{"field":"t","type":"quantitative","scale":{"domain":[0,3],"nice":false,"zero":false}},"y":{"field":"v","type":"quantitative","scale":{"domain":[57.7,98.5],"nice":false,"zero":false}},"text":{"field":"l"}}}
]},
{"width":705.6,"height":157,"layer":[
{"data":{"name":"grid"},"mark":{"type":"rule","color":"#b8b8b8","strokeWidth":1},"encoding":{"y":{"field":"g","type":"quantitative","scale":{"domain":[57.7,98.5],"nice":false,"zero":false},"axis":{"values":[60,70,80,90],"title":null,"labelPadding":1}}}},
{"data":{"name":"iv"},"transform":[{"filter":"datum.p==2 && datum.k=='ph'"}],"mark":{"type":"rule","color":"#858585","strokeWidth":1},"encoding":{"x":{"field":"s","type":"quantitative","scale":{"domain":[3,6],"nice":false,"zero":false},"axis":{"orient":"top","values":[3,3.1,3.2,3.3,3.4,3.5,3.6,3.7,3.8,3.9,4,4.1,4.2,4.3,4.4,4.5,4.6,4.7,4.8,4.9,5,5.1,5.2,5.3,5.4,5.5,5.6,5.7,5.8,5.9,6],"labelExpr":"abs(datum.value-round(datum.value))<0.01 ? format(round(datum.value),'d') : ''","labelFlush":false,"labelOverlap":false,"labelPadding":2,"title":null}},"y":{"datum":75,"type":"quantitative","scale":{"domain":[57.7,98.5],"nice":false,"zero":false}},"y2":{"datum":98.5}}},
{"data":{"name":"iv"},"transform":[{"filter":"datum.p==2 && datum.k=='sy'"}],"mark":{"type":"rule","color":"#3c3c3c","strokeWidth":1.5},"encoding":{"x":{"field":"s","type":"quantitative","scale":{"domain":[3,6],"nice":false,"zero":false}},"y":{"datum":75,"type":"quantitative","scale":{"domain":[57.7,98.5],"nice":false,"zero":false}},"y2":{"datum":98.5}}},
{"data":{"name":"in"},"transform":[{"filter":"datum.p==2"}],"mark":{"type":"line","color":"#1f8a1f","strokeWidth":1},"encoding":{"x":{"field":"t","type":"quantitative","scale":{"domain":[3,6],"nice":false,"zero":false}},"y":{"field":"v","type":"quantitative","scale":{"domain":[57.7,98.5],"nice":false,"zero":false}}}},
{"data":{"name":"f0"},"transform":[{"filter":"datum.p==2"}],"mark":{"type":"line","color":"#0000ff","strokeWidth":1},"encoding":{"x":{"field":"t","type":"quantitative","scale":{"domain":[3,6],"nice":false,"zero":false}},"y":{"field":"v","type":"quantitative","scale":{"domain":[57.7,98.5],"nice":false,"zero":false}},"detail":{"field":"id"}}},
{"data":{"name":"voi"},"transform":[{"filter":"datum.p==2"}],"mark":{"type":"rule","color":"black","strokeWidth":1,"strokeDash":[2,1.5]},"encoding":{"x":{"field":"s","type":"quantitative","scale":{"domain":[3,6],"nice":false,"zero":false}},"x2":{"field":"e"},"y":{"datum":76.0,"type":"quantitative","scale":{"domain":[57.7,98.5],"nice":false,"zero":false}}}},
{"data":{"name":"nuc"},"transform":[{"filter":"datum.p==2"}],"mark":{"type":"rect","fillOpacity":0,"stroke":"#ff0000","strokeWidth":1},"encoding":{"x":{"field":"s","type":"quantitative","scale":{"domain":[3,6],"nice":false,"zero":false}},"x2":{"field":"e"},"y":{"datum":75.25,"type":"quantitative","scale":{"domain":[57.7,98.5],"nice":false,"zero":false}},"y2":{"datum":76.55}}},
{"data":{"name":"sty"},"transform":[{"filter":"datum.p==2"}],"mark":{"type":"line","strokeWidth":4.5,"strokeCap":"butt"},"encoding":{"x":{"field":"t","type":"quantitative","scale":{"domain":[3,6],"nice":false,"zero":false}},"y":{"field":"v","type":"quantitative","scale":{"domain":[57.7,98.5],"nice":false,"zero":false}},"detail":{"field":"id"},"color":{"field":"c","type":"nominal","scale":{"domain":["k","r"],"range":["black","#ff0000"]},"legend":null}}},
{"data":{"values":[{"y":75},{"y":69.3},{"y":63.4}]},"mark":{"type":"rule","color":"black","strokeWidth":1.5},"encoding":{"y":{"field":"y","type":"quantitative","scale":{"domain":[57.7,98.5],"nice":false,"zero":false}}}},
{"data":{"name":"iv"},"transform":[{"filter":"datum.p==2 && datum.k=='ph'"}],"mark":{"type":"rule","color":"#333333","strokeWidth":1.2},"encoding":{"x":{"field":"s","type":"quantitative","scale":{"domain":[3,6],"nice":false,"zero":false}},"y":{"datum":69.3,"type":"quantitative","scale":{"domain":[57.7,98.5],"nice":false,"zero":false}},"y2":{"datum":75}}},
{"data":{"name":"iv"},"transform":[{"filter":"datum.p==2 && datum.k=='sy'"}],"mark":{"type":"rule","color":"#333333","strokeWidth":1.2},"encoding":{"x":{"field":"s","type":"quantitative","scale":{"domain":[3,6],"nice":false,"zero":false}},"y":{"datum":63.4,"type":"quantitative","scale":{"domain":[57.7,98.5],"nice":false,"zero":false}},"y2":{"datum":69.3}}},
{"data":{"name":"iv"},"transform":[{"filter":"datum.p==2 && datum.k=='wd'"}],"mark":{"type":"rule","color":"#333333","strokeWidth":1.2},"encoding":{"x":{"field":"s","type":"quantitative","scale":{"domain":[3,6],"nice":false,"zero":false}},"y":{"datum":57.7,"type":"quantitative","scale":{"domain":[57.7,98.5],"nice":false,"zero":false}},"y2":{"datum":63.4}}},
{"data":{"name":"pz"},"transform":[{"filter":"datum.p==2"}],"mark":{"type":"rule","color":"black","strokeWidth":2},"encoding":{"x":{"field":"t","type":"quantitative","scale":{"domain":[3,6],"nice":false,"zero":false}},"y":{"datum":57.7,"type":"quantitative","scale":{"domain":[57.7,98.5],"nice":false,"zero":false}},"y2":{"datum":98.5}}},
{"data":{"name":"iv"},"transform":[{"filter":"datum.p==2 && datum.k=='ph'"}],"mark":{"type":"text","font":"Liberation Serif","fontSize":16,"baseline":"alphabetic","color":"black"},"encoding":{"x":{"field":"m","type":"quantitative","scale":{"domain":[3,6],"nice":false,"zero":false}},"y":{"datum":70.1,"type":"quantitative","scale":{"domain":[57.7,98.5],"nice":false,"zero":false}},"text":{"field":"l"}}},
{"data":{"name":"iv"},"transform":[{"filter":"datum.p==2 && datum.k=='sy'"}],"mark":{"type":"text","font":"Liberation Serif","fontSize":16,"baseline":"alphabetic","color":"black"},"encoding":{"x":{"field":"m","type":"quantitative","scale":{"domain":[3,6],"nice":false,"zero":false}},"y":{"datum":65.1,"type":"quantitative","scale":{"domain":[57.7,98.5],"nice":false,"zero":false}},"text":{"field":"l"}}},
{"data":{"name":"iv"},"transform":[{"filter":"datum.p==2 && datum.k=='wd'"}],"mark":{"type":"text","font":"Liberation Serif","fontSize":16,"baseline":"alphabetic","color":"black"},"encoding":{"x":{"field":"m","type":"quantitative","scale":{"domain":[3,6],"nice":false,"zero":false}},"y":{"datum":59.3,"type":"quantitative","scale":{"domain":[57.7,98.5],"nice":false,"zero":false}},"text":{"field":"l"}}},
{"data":{"name":"ann"},"transform":[{"filter":"datum.p==2 && datum.k=='tri'"}],"mark":{"type":"point","shape":"M 1 -0.67 L -1 0 L 1 0.67 Z","size":225,"filled":true,"color":"#ff1a1a","opacity":1},"encoding":{"x":{"field":"t","type":"quantitative","scale":{"domain":[3,6],"nice":false,"zero":false}},"y":{"field":"v","type":"quantitative","scale":{"domain":[57.7,98.5],"nice":false,"zero":false}}}},
{"data":{"name":"ann"},"transform":[{"filter":"datum.p==2 && datum.k=='hz'"}],"mark":{"type":"text","font":"Liberation Sans","fontSize":9.5,"align":"right","baseline":"middle","color":"#ff1a1a"},"encoding":{"x":{"field":"t","type":"quantitative","scale":{"domain":[3,6],"nice":false,"zero":false}},"y":{"field":"v","type":"quantitative","scale":{"domain":[57.7,98.5],"nice":false,"zero":false}},"text":{"field":"l"}}},
{"data":{"name":"ann"},"transform":[{"filter":"datum.p==2 && datum.k=='tag'"}],"mark":{"type":"text","font":"Liberation Sans","fontSize":9,"align":"left","baseline":"middle","color":"black"},"encoding":{"x":{"field":"t","type":"quantitative","scale":{"domain":[3,6],"nice":false,"zero":false}},"y":{"field":"v","type":"quantitative","scale":{"domain":[57.7,98.5],"nice":false,"zero":false}},"text":{"field":"l"}}},
{"data":{"name":"ann"},"transform":[{"filter":"datum.p==2 && datum.k=='ft'"}],"mark":{"type":"text","font":"Liberation Sans","fontSize":5.5,"align":"right","baseline":"middle","color":"#333333"},"encoding":{"x":{"field":"t","type":"quantitative","scale":{"domain":[3,6],"nice":false,"zero":false}},"y":{"field":"v","type":"quantitative","scale":{"domain":[57.7,98.5],"nice":false,"zero":false}},"text":{"field":"l"}}},
{"data":{"name":"ann"},"transform":[{"filter":"datum.p==2 && datum.k=='st'"}],"mark":{"type":"text","font":"Liberation Sans","fontSize":11,"align":"left","baseline":"middle","color":"black"},"encoding":{"x":{"field":"t","type":"quantitative","scale":{"domain":[3,6],"nice":false,"zero":false}},"y":{"field":"v","type":"quantitative","scale":{"domain":[57.7,98.5],"nice":false,"zero":false}},"text":{"field":"l"}}}
]},
{"width":705.6,"height":157,"layer":[
{"data":{"name":"grid"},"mark":{"type":"rule","color":"#b8b8b8","strokeWidth":1},"encoding":{"y":{"field":"g","type":"quantitative","scale":{"domain":[57.7,98.5],"nice":false,"zero":false},"axis":{"values":[60,70,80,90],"title":null,"labelPadding":1}}}},
{"data":{"name":"iv"},"transform":[{"filter":"datum.p==3 && datum.k=='ph'"}],"mark":{"type":"rule","color":"#858585","strokeWidth":1},"encoding":{"x":{"field":"s","type":"quantitative","scale":{"domain":[6,9],"nice":false,"zero":false},"axis":{"orient":"top","values":[6,6.1,6.2,6.3,6.4,6.5,6.6,6.7,6.8,6.9,7,7.1,7.2,7.3,7.4,7.5,7.6,7.7,7.8,7.9,8,8.1,8.2,8.3,8.4,8.5,8.6,8.7,8.8,8.9,9],"labelExpr":"abs(datum.value-round(datum.value))<0.01 ? format(round(datum.value),'d') : ''","labelFlush":false,"labelOverlap":false,"labelPadding":2,"title":null}},"y":{"datum":75,"type":"quantitative","scale":{"domain":[57.7,98.5],"nice":false,"zero":false}},"y2":{"datum":98.5}}},
{"data":{"name":"iv"},"transform":[{"filter":"datum.p==3 && datum.k=='sy'"}],"mark":{"type":"rule","color":"#3c3c3c","strokeWidth":1.5},"encoding":{"x":{"field":"s","type":"quantitative","scale":{"domain":[6,9],"nice":false,"zero":false}},"y":{"datum":75,"type":"quantitative","scale":{"domain":[57.7,98.5],"nice":false,"zero":false}},"y2":{"datum":98.5}}},
{"data":{"name":"in"},"transform":[{"filter":"datum.p==3"}],"mark":{"type":"line","color":"#1f8a1f","strokeWidth":1},"encoding":{"x":{"field":"t","type":"quantitative","scale":{"domain":[6,9],"nice":false,"zero":false}},"y":{"field":"v","type":"quantitative","scale":{"domain":[57.7,98.5],"nice":false,"zero":false}}}},
{"data":{"name":"f0"},"transform":[{"filter":"datum.p==3"}],"mark":{"type":"line","color":"#0000ff","strokeWidth":1},"encoding":{"x":{"field":"t","type":"quantitative","scale":{"domain":[6,9],"nice":false,"zero":false}},"y":{"field":"v","type":"quantitative","scale":{"domain":[57.7,98.5],"nice":false,"zero":false}},"detail":{"field":"id"}}},
{"data":{"name":"voi"},"transform":[{"filter":"datum.p==3"}],"mark":{"type":"rule","color":"black","strokeWidth":1,"strokeDash":[2,1.5]},"encoding":{"x":{"field":"s","type":"quantitative","scale":{"domain":[6,9],"nice":false,"zero":false}},"x2":{"field":"e"},"y":{"datum":76.0,"type":"quantitative","scale":{"domain":[57.7,98.5],"nice":false,"zero":false}}}},
{"data":{"name":"nuc"},"transform":[{"filter":"datum.p==3"}],"mark":{"type":"rect","fillOpacity":0,"stroke":"#ff0000","strokeWidth":1},"encoding":{"x":{"field":"s","type":"quantitative","scale":{"domain":[6,9],"nice":false,"zero":false}},"x2":{"field":"e"},"y":{"datum":75.25,"type":"quantitative","scale":{"domain":[57.7,98.5],"nice":false,"zero":false}},"y2":{"datum":76.55}}},
{"data":{"name":"sty"},"transform":[{"filter":"datum.p==3"}],"mark":{"type":"line","strokeWidth":4.5,"strokeCap":"butt"},"encoding":{"x":{"field":"t","type":"quantitative","scale":{"domain":[6,9],"nice":false,"zero":false}},"y":{"field":"v","type":"quantitative","scale":{"domain":[57.7,98.5],"nice":false,"zero":false}},"detail":{"field":"id"},"color":{"field":"c","type":"nominal","scale":{"domain":["k","r"],"range":["black","#ff0000"]},"legend":null}}},
{"data":{"values":[{"y":75},{"y":69.3},{"y":63.4}]},"mark":{"type":"rule","color":"black","strokeWidth":1.5},"encoding":{"y":{"field":"y","type":"quantitative","scale":{"domain":[57.7,98.5],"nice":false,"zero":false}}}},
{"data":{"name":"iv"},"transform":[{"filter":"datum.p==3 && datum.k=='ph'"}],"mark":{"type":"rule","color":"#333333","strokeWidth":1.2},"encoding":{"x":{"field":"s","type":"quantitative","scale":{"domain":[6,9],"nice":false,"zero":false}},"y":{"datum":69.3,"type":"quantitative","scale":{"domain":[57.7,98.5],"nice":false,"zero":false}},"y2":{"datum":75}}},
{"data":{"name":"iv"},"transform":[{"filter":"datum.p==3 && datum.k=='sy'"}],"mark":{"type":"rule","color":"#333333","strokeWidth":1.2},"encoding":{"x":{"field":"s","type":"quantitative","scale":{"domain":[6,9],"nice":false,"zero":false}},"y":{"datum":63.4,"type":"quantitative","scale":{"domain":[57.7,98.5],"nice":false,"zero":false}},"y2":{"datum":69.3}}},
{"data":{"name":"iv"},"transform":[{"filter":"datum.p==3 && datum.k=='wd'"}],"mark":{"type":"rule","color":"#333333","strokeWidth":1.2},"encoding":{"x":{"field":"s","type":"quantitative","scale":{"domain":[6,9],"nice":false,"zero":false}},"y":{"datum":57.7,"type":"quantitative","scale":{"domain":[57.7,98.5],"nice":false,"zero":false}},"y2":{"datum":63.4}}},
{"data":{"name":"pz"},"transform":[{"filter":"datum.p==3"}],"mark":{"type":"rule","color":"black","strokeWidth":2},"encoding":{"x":{"field":"t","type":"quantitative","scale":{"domain":[6,9],"nice":false,"zero":false}},"y":{"datum":57.7,"type":"quantitative","scale":{"domain":[57.7,98.5],"nice":false,"zero":false}},"y2":{"datum":98.5}}},
{"data":{"name":"iv"},"transform":[{"filter":"datum.p==3 && datum.k=='ph'"}],"mark":{"type":"text","font":"Liberation Serif","fontSize":16,"baseline":"alphabetic","color":"black"},"encoding":{"x":{"field":"m","type":"quantitative","scale":{"domain":[6,9],"nice":false,"zero":false}},"y":{"datum":70.1,"type":"quantitative","scale":{"domain":[57.7,98.5],"nice":false,"zero":false}},"text":{"field":"l"}}},
{"data":{"name":"iv"},"transform":[{"filter":"datum.p==3 && datum.k=='sy'"}],"mark":{"type":"text","font":"Liberation Serif","fontSize":16,"baseline":"alphabetic","color":"black"},"encoding":{"x":{"field":"m","type":"quantitative","scale":{"domain":[6,9],"nice":false,"zero":false}},"y":{"datum":65.1,"type":"quantitative","scale":{"domain":[57.7,98.5],"nice":false,"zero":false}},"text":{"field":"l"}}},
{"data":{"name":"iv"},"transform":[{"filter":"datum.p==3 && datum.k=='wd'"}],"mark":{"type":"text","font":"Liberation Serif","fontSize":16,"baseline":"alphabetic","color":"black"},"encoding":{"x":{"field":"m","type":"quantitative","scale":{"domain":[6,9],"nice":false,"zero":false}},"y":{"datum":59.3,"type":"quantitative","scale":{"domain":[57.7,98.5],"nice":false,"zero":false}},"text":{"field":"l"}}},
{"data":{"name":"ann"},"transform":[{"filter":"datum.p==3 && datum.k=='tri'"}],"mark":{"type":"point","shape":"M 1 -0.67 L -1 0 L 1 0.67 Z","size":225,"filled":true,"color":"#ff1a1a","opacity":1},"encoding":{"x":{"field":"t","type":"quantitative","scale":{"domain":[6,9],"nice":false,"zero":false}},"y":{"field":"v","type":"quantitative","scale":{"domain":[57.7,98.5],"nice":false,"zero":false}}}},
{"data":{"name":"ann"},"transform":[{"filter":"datum.p==3 && datum.k=='hz'"}],"mark":{"type":"text","font":"Liberation Sans","fontSize":9.5,"align":"right","baseline":"middle","color":"#ff1a1a"},"encoding":{"x":{"field":"t","type":"quantitative","scale":{"domain":[6,9],"nice":false,"zero":false}},"y":{"field":"v","type":"quantitative","scale":{"domain":[57.7,98.5],"nice":false,"zero":false}},"text":{"field":"l"}}},
{"data":{"name":"ann"},"transform":[{"filter":"datum.p==3 && datum.k=='tag'"}],"mark":{"type":"text","font":"Liberation Sans","fontSize":9,"align":"left","baseline":"middle","color":"black"},"encoding":{"x":{"field":"t","type":"quantitative","scale":{"domain":[6,9],"nice":false,"zero":false}},"y":{"field":"v","type":"quantitative","scale":{"domain":[57.7,98.5],"nice":false,"zero":false}},"text":{"field":"l"}}},
{"data":{"name":"ann"},"transform":[{"filter":"datum.p==3 && datum.k=='ft'"}],"mark":{"type":"text","font":"Liberation Sans","fontSize":5.5,"align":"right","baseline":"middle","color":"#333333"},"encoding":{"x":{"field":"t","type":"quantitative","scale":{"domain":[6,9],"nice":false,"zero":false}},"y":{"field":"v","type":"quantitative","scale":{"domain":[57.7,98.5],"nice":false,"zero":false}},"text":{"field":"l"}}},
{"data":{"name":"box"},"transform":[{"filter":"datum.p==3"}],"mark":{"type":"rect","color":"#9ccc98","opacity":1},"encoding":{"x":{"field":"s","type":"quantitative","scale":{"domain":[6,9],"nice":false,"zero":false}},"x2":{"field":"e"},"y":{"field":"b","type":"quantitative","scale":{"domain":[57.7,98.5],"nice":false,"zero":false}},"y2":{"field":"t"}}},
{"data":{"name":"ann"},"transform":[{"filter":"datum.p==3 && datum.k=='big'"}],"mark":{"type":"text","font":"Liberation Sans","fontSize":30,"align":"left","baseline":"middle","color":"#0b2c5a","stroke":"#0b2c5a","strokeWidth":0.6},"encoding":{"x":{"field":"t","type":"quantitative","scale":{"domain":[6,9],"nice":false,"zero":false}},"y":{"field":"v","type":"quantitative","scale":{"domain":[57.7,98.5],"nice":false,"zero":false}},"text":{"field":"l"}}}
]}
]
}
